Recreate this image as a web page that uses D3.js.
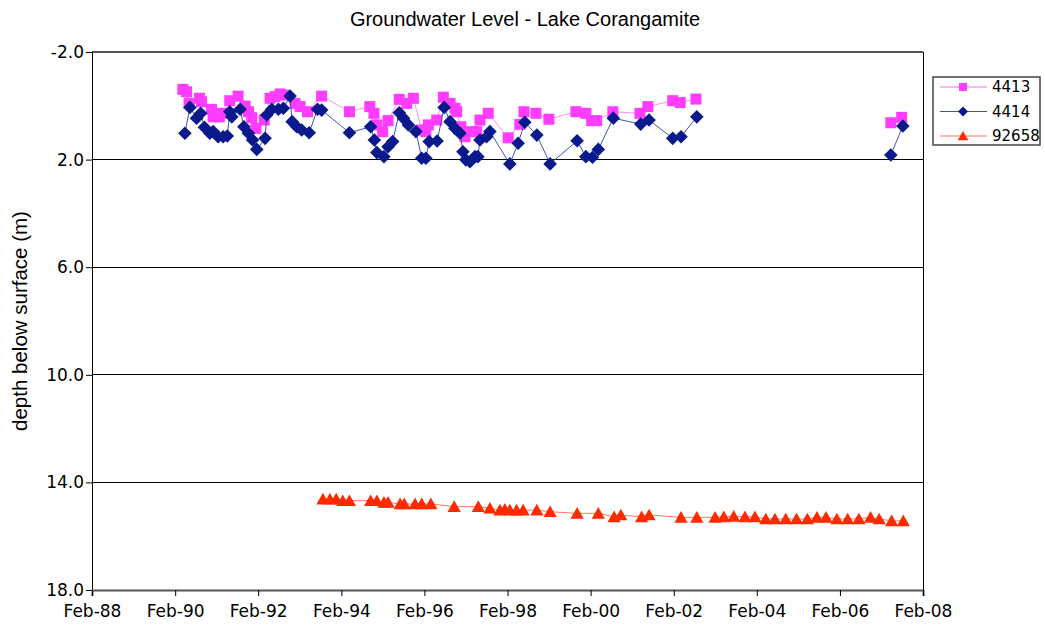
<!DOCTYPE html>
<html>
<head>
<meta charset="utf-8">
<script src="https://cdn.jsdelivr.net/npm/d3@7"></script>
<style>
  body { margin: 0; background: #fff; }
  svg { display: block; }
</style>
</head>
<body>
<svg id="chart" width="1045" height="625"></svg>
<script>
// Series values (decimal year, depth below surface in m)
const years4413 = [1990.27, 1990.36, 1990.42, 1990.67, 1990.72, 1990.96, 1991.00, 1991.15, 1991.20, 1991.40,
  1991.60, 1991.77, 1991.85, 1991.93, 1992.03, 1992.23, 1992.37, 1992.49, 1992.61, 1992.69,
  1992.97, 1993.09, 1993.27, 1993.61, 1994.28, 1994.77, 1994.87, 1994.94, 1995.08, 1995.21,
  1995.48, 1995.66, 1995.82, 1996.02, 1996.12, 1996.18, 1996.38, 1996.54, 1996.70, 1996.82,
  1996.86, 1996.96, 1997.06, 1997.22, 1997.34, 1997.42, 1997.62, 1998.10, 1998.38, 1998.48,
  1998.77, 1999.08, 1999.73, 1999.97, 2000.11, 2000.23, 2000.62, 2001.27, 2001.46, 2002.06,
  2002.24, 2002.62, 2005.00, 2007.31, 2007.57]
const depth4413 = [-0.61, -0.52, -0.09, -0.28, -0.15, 0.13, 0.41, 0.41, 0.28, -0.19,
  -0.36, 0.01, 0.22, 0.44, 0.84, 0.53, -0.28, -0.34, -0.44, -0.40,
  -0.09, 0.03, 0.22, -0.36, 0.22, 0.03, 0.28, 0.71, 0.96, 0.55,
  -0.24, -0.09, -0.28, 0.90, 0.96, 0.71, 0.53, -0.32, -0.09, 0.09,
  0.22, 0.78, 1.15, 0.96, 0.96, 0.53, 0.28, 1.19, 0.69, 0.22,
  0.28, 0.50, 0.22, 0.28, 0.55, 0.55, 0.22, 0.28, 0.03, -0.19,
  -0.12, -0.25, null, 0.63, 0.43]

const years4414 = [1990.32, 1990.44, 1990.60, 1990.70, 1990.79, 1990.92, 1991.00, 1991.12, 1991.24, 1991.34,
  1991.40, 1991.45, 1991.65, 1991.74, 1991.85, 1991.95, 1992.05, 1992.25, 1992.29, 1992.41,
  1992.57, 1992.69, 1992.85, 1992.90, 1993.01, 1993.13, 1993.31, 1993.51, 1993.61, 1994.28,
  1994.79, 1994.88, 1994.94, 1995.11, 1995.21, 1995.32, 1995.48, 1995.58, 1995.70, 1995.88,
  1996.02, 1996.12, 1996.20, 1996.39, 1996.56, 1996.70, 1996.82, 1996.94, 1997.01, 1997.08,
  1997.18, 1997.30, 1997.37, 1997.42, 1997.58, 1997.66, 1998.14, 1998.34, 1998.50, 1998.79,
  1999.11, 1999.76, 1999.97, 2000.13, 2000.27, 2000.63, 2001.29, 2001.49, 2002.06, 2002.26,
  2002.64, 2005.00, 2007.31, 2007.60]
const depth4414 = [1.02, 0.06, 0.46, 0.28, 0.80, 1.02, 0.96, 1.15, 1.15, 1.12,
  0.22, 0.41, 0.13, 0.78, 1.02, 1.27, 1.62, 1.21, 0.34, 0.13,
  0.13, 0.09, -0.36, 0.59, 0.78, 0.90, 1.00, 0.13, 0.16, 1.00,
  0.78, 1.27, 1.74, 1.89, 1.52, 1.33, 0.26, 0.46, 0.71, 0.96,
  1.95, 1.95, 1.33, 1.31, 0.06, 0.59, 0.84, 1.02, 1.71, 2.01,
  2.08, 1.89, 1.89, 1.27, 1.15, 0.96, 2.16, 1.39, 0.61, 1.09,
  2.16, 1.30, 1.89, 1.91, 1.62, 0.46, 0.68, 0.53, 1.21, 1.15,
  0.41, null, 1.83, 0.75]

const years92658 = [1993.64, 1993.81, 1993.96, 1994.12, 1994.28, 1994.79, 1994.94, 1995.11, 1995.21, 1995.50,
  1995.60, 1995.86, 1996.02, 1996.24, 1996.80, 1997.38, 1997.66, 1997.90, 1998.02, 1998.14,
  1998.30, 1998.46, 1998.79, 1999.11, 1999.76, 2000.27, 2000.65, 2000.81, 2001.31, 2001.49,
  2002.26, 2002.64, 2003.08, 2003.29, 2003.53, 2003.80, 2004.04, 2004.30, 2004.52, 2004.78,
  2005.04, 2005.30, 2005.53, 2005.75, 2006.01, 2006.27, 2006.54, 2006.82, 2007.03, 2007.33,
  2007.61]
const depth92658 = [14.62, 14.62, 14.62, 14.68, 14.68, 14.68, 14.68, 14.74, 14.74, 14.80,
  14.80, 14.80, 14.80, 14.80, 14.90, 14.90, 14.96, 15.03, 15.00, 15.03,
  15.03, 15.03, 15.03, 15.09, 15.15, 15.15, 15.28, 15.21, 15.28, 15.21,
  15.30, 15.30, 15.30, 15.28, 15.26, 15.28, 15.28, 15.36, 15.36, 15.36,
  15.36, 15.36, 15.30, 15.30, 15.36, 15.36, 15.36, 15.30, 15.36, 15.43,
  15.43]

const seriesNames = ["4413", "4414", "92658"]
const tickYears = [1988, 1990, 1992, 1994, 1996, 1998, 2000, 2002, 2004, 2006, 2008]
const yTicks = [-2, 2, 6, 10, 14, 18]

function toDate(y) {
  const yr = Math.floor(y)
  const start = new Date(yr, 0, 1), end = new Date(yr + 1, 0, 1)
  return new Date(+start + (y - yr) * (end - start))
}

const svg = d3.select("#chart")
const margin = { top: 52, left: 92, right: 122, bottom: 35 }
const W = 1045, H = 625

const x = d3.scaleTime()
  .domain([new Date(1988, 1, 1), new Date(2008, 1, 1)])
  .range([margin.left, W - margin.right])

const y = d3.scaleLinear()
  .domain([-2, 18])
  .range([margin.top, H - margin.bottom])

// gridlines
svg.append("g")
  .selectAll("line")
  .data(yTicks.slice(1, -1))
  .join("line")
  .attr("x1", x.range()[0]).attr("x2", x.range()[1])
  .attr("y1", d => y(d)).attr("y2", d => y(d))
  .attr("stroke", "#000").attr("stroke-width", 1)
  .attr("shape-rendering", "crispEdges")

// plot frame
svg.append("line")
  .attr("x1", x.range()[0]).attr("x2", x.range()[1])
  .attr("y1", y(-2)).attr("y2", y(-2))
  .attr("stroke", "#555").attr("stroke-width", 2)
svg.append("line")
  .attr("x1", x.range()[1]).attr("x2", x.range()[1])
  .attr("y1", y(-2)).attr("y2", y(18))
  .attr("stroke", "#000").attr("stroke-width", 1)
  .attr("shape-rendering", "crispEdges")

// Axes
const fontTicks = "'DejaVu Sans', Verdana, sans-serif"
const fmtY = d => d3.format(".1f")(d).replace("−", "-")

const yAxis = svg.append("g")
  .attr("transform", `translate(${margin.left},0)`)
  .call(d3.axisLeft(y).tickValues(yTicks).tickFormat(fmtY).tickSize(6).tickPadding(2))
yAxis.select(".domain").attr("stroke", "#000")
yAxis.selectAll("text").attr("font-family", fontTicks).attr("font-size", 17).attr("fill", "#000")

const xAxis = svg.append("g")
  .attr("transform", `translate(0,${y(18)})`)
  .call(d3.axisBottom(x).tickValues(tickYears.map(yr => new Date(yr, 1, 1)))
    .tickFormat(d3.timeFormat("%b-%y")).tickSize(6).tickPadding(9))
xAxis.select(".domain").attr("stroke", "#555").attr("stroke-width", 2)
xAxis.selectAll("text").attr("font-family", fontTicks).attr("font-size", 17).attr("fill", "#000")

// title and axis label
svg.append("text")
  .attr("x", 525).attr("y", 26)
  .attr("text-anchor", "middle")
  .attr("font-family", "'Liberation Sans', Arial, sans-serif")
  .attr("font-size", 20)
  .text("Groundwater Level - Lake Corangamite")

svg.append("text")
  .attr("transform", `translate(27,${(y(-2) + y(18)) / 2}) rotate(-90)`)
  .attr("text-anchor", "middle")
  .attr("font-family", "'Liberation Sans', Arial, sans-serif")
  .attr("font-size", 20.5)
  .text("depth below surface (m)")

// markers
const squarePath = s => `M${-s},${-s}H${s}V${s}H${-s}Z`
const diamondPath = s => `M0,${-s}L${s},0L0,${s}L${-s},0Z`
const trianglePath = s => `M0,${-s}L${s * 1.05},${s * 0.85}L${-s * 1.05},${s * 0.85}Z`

const series = [
  { name: "4413", years: years4413, depth: depth4413, line: "#ff8cff", fill: "#ff3cff", shape: squarePath, size: 5.5, lsize: 4 },
  { name: "4414", years: years4414, depth: depth4414, line: "#4352ad", fill: "#0a1a8c", shape: diamondPath, size: 6.8, lsize: 5 },
  { name: "92658", years: years92658, depth: depth92658, line: "#ff7a5c", fill: "#ff2a00", shape: trianglePath, size: 6.3, lsize: 5 }
]

const line = d3.line()
  .defined(d => d.v != null)
  .x(d => x(d.date))
  .y(d => y(d.v))

series.forEach(s => {
  const pts = s.years.map((yr, i) => ({ date: toDate(yr), v: s.depth[i] }))
  const g = svg.append("g")
  g.append("path")
    .datum(pts)
    .attr("d", line)
    .attr("fill", "none")
    .attr("stroke", s.line)
    .attr("stroke-width", 1)
  g.selectAll(".m")
    .data(pts.filter(d => d.v != null))
    .join("path")
    .attr("class", "m")
    .attr("transform", d => `translate(${x(d.date)},${y(d.v)})`)
    .attr("d", s.shape(s.size))
    .attr("fill", s.fill)
})

// legend
const legend = svg.append("g").attr("transform", "translate(933,77)")
legend.append("rect")
  .attr("width", 107).attr("height", 68)
  .attr("fill", "#fff").attr("stroke", "#444").attr("stroke-width", 1.5)

series.forEach((s, i) => {
  const row = legend.append("g").attr("transform", `translate(0,${10 + i * 24.5})`)
  row.append("line")
    .attr("x1", 7).attr("x2", 54)
    .attr("stroke", s.line === "#ff8cff" ? "#ff66ff" : s.line).attr("stroke-width", 1.2)
  row.append("path")
    .attr("transform", "translate(30,0)")
    .attr("d", s.shape(s.lsize))
    .attr("fill", s.fill)
  row.append("text")
    .attr("x", 59).attr("y", 0)
    .attr("dy", "0.36em")
    .attr("font-family", fontTicks)
    .attr("font-size", 15)
    .text(s.name)
})
</script>
</body>
</html>
